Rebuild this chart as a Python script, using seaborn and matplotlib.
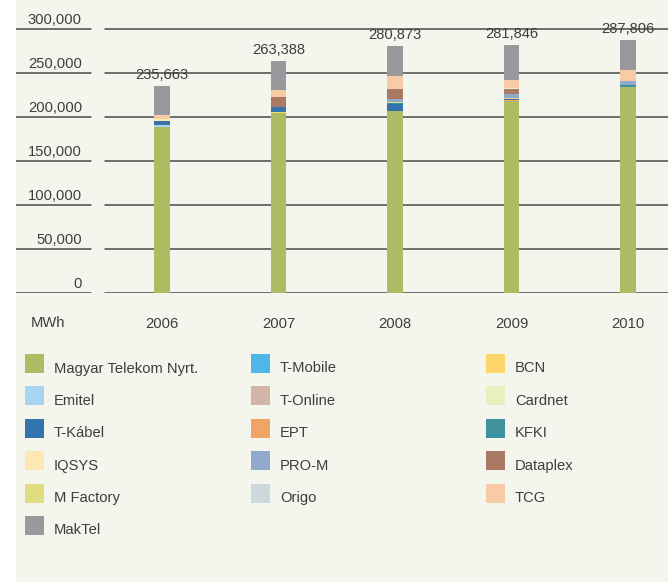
import numpy as np
import matplotlib
matplotlib.use("Agg")
import matplotlib.pyplot as plt
import matplotlib.transforms as mtrans
from matplotlib.patches import Rectangle
import seaborn as sns

# ---------------- data ----------------
years = ["2006", "2007", "2008", "2009", "2010"]
totals = [235663, 263388, 280873, 281846, 287806]

magyar_telekom = [188600, 204500, 206800, 218200, 234100]
emitel = [2300, 0, 0, 0, 0]
ept = [0, 0, 0, 1000, 0]
bcn = [0, 1100, 0, 0, 0]
t_kabel = [4200, 5300, 8000, 1000, 0]
kfki = [0, 0, 1500, 0, 2600]
m_factory = [0, 0, 1100, 1300, 0]
iqsys = [2500, 0, 0, 0, 0]
t_mobile = [0, 0, 0, 0, 0]
t_online = [0, 0, 0, 0, 0]
origo = [0, 0, 0, 0, 0]
pro_m = [0, 0, 3000, 4500, 4500]
dataplex = [0, 11400, 11400, 5300, 0]
cardnet = [0, 0, 0, 1100, 0]
tcg = [4200, 8000, 15100, 10200, 12500]
maktel = [33863, 33088, 33973, 39246, 34106]

y_ticks = [0, 50000, 100000, 150000, 200000, 250000, 300000]

# name -> (values, colour)
series = {
    "Magyar Telekom Nyrt.": (magyar_telekom, "#adbb63"),
    "Emitel": (emitel, "#a8d5f0"),
    "T-Kábel": (t_kabel, "#3474ac"),
    "IQSYS": (iqsys, "#fde8b4"),
    "M Factory": (m_factory, "#dfdc82"),
    "MakTel": (maktel, "#98999d"),
    "T-Mobile": (t_mobile, "#4fb6e8"),
    "T-Online": (t_online, "#d2b5a6"),
    "EPT": (ept, "#eea565"),
    "PRO-M": (pro_m, "#91a9cc"),
    "Origo": (origo, "#cbd8de"),
    "BCN": (bcn, "#fdd66a"),
    "Cardnet": (cardnet, "#ebeec0"),
    "KFKI": (kfki, "#40919e"),
    "Dataplex": (dataplex, "#ab7a66"),
    "TCG": (tcg, "#f8cba6"),
}
legend_order = ["Magyar Telekom Nyrt.", "Emitel", "T-Kábel", "IQSYS", "M Factory", "MakTel",
                "T-Mobile", "T-Online", "EPT", "PRO-M", "Origo",
                "BCN", "Cardnet", "KFKI", "Dataplex", "TCG"]
stack_order = ["Magyar Telekom Nyrt.", "Emitel", "EPT", "BCN", "T-Kábel", "KFKI", "M Factory",
               "IQSYS", "T-Mobile", "T-Online", "Origo", "PRO-M", "Dataplex", "Cardnet",
               "TCG", "MakTel"]

# ---------------- style ----------------
sns.set_theme(style="white")
plt.rcParams["font.family"] = ["Liberation Sans", "DejaVu Sans"]
TXT = "#3e3e3e"
CREAM = "#f4f5ec"
FS = 10.6

W, H = 668, 582
fig = plt.figure(figsize=(W / 100, H / 100), dpi=100)
fig.patch.set_facecolor("white")
fig.add_artist(Rectangle((16 / W, 0), 1, 1, transform=fig.transFigure,
                         facecolor=CREAM, edgecolor="none", zorder=-10))

ax_left, ax_right = 16, 668
ax_bottom_px, ax_top_px = 293, 12
ax = fig.add_axes([ax_left / W, (H - ax_bottom_px) / H,
                   (ax_right - ax_left) / W, (ax_bottom_px - ax_top_px) / H])
ax.set_facecolor("none")

# stacked bars
bottom = np.zeros(len(years))
for name in stack_order:
    vals, col = series[name]
    sns.barplot(x=years, y=vals, order=years, color=col, saturation=1,
                width=0.137, bottom=bottom.copy(), errorbar=None,
                linewidth=0, ax=ax, zorder=3)
    bottom += np.array(vals, dtype=float)

spacing = 116.5
x0 = -(162 - ax_left) / spacing
x1 = 4 + (ax_right - 628) / spacing
ax.set_xlim(x0, x1)
ax.set_ylim(0, 300000 * (ax_bottom_px - ax_top_px) / 264)

# gridlines with a gap after labels
axw = ax_right - ax_left
for v in y_ticks:
    ax.axhline(v, xmin=0, xmax=(91 - ax_left) / axw, color="#4a4a4a", lw=1.1, zorder=1)
    ax.axhline(v, xmin=(105 - ax_left) / axw, xmax=1, color="#4a4a4a", lw=1.1, zorder=1)
    tr = mtrans.offset_copy(ax.get_yaxis_transform(), fig=fig, x=0, y=5, units="dots")
    ax.text((82 - ax_left) / axw, v, f"{v:,}", transform=tr, ha="right", va="baseline",
            fontsize=FS, color=TXT)

# totals above bars
for i, t in enumerate(totals):
    tr = mtrans.offset_copy(ax.transData, fig=fig, x=0, y=7, units="dots")
    ax.text(i, t, f"{t:,}", transform=tr, ha="center", va="baseline",
            fontsize=FS, color=TXT, zorder=5)

for s in ax.spines.values():
    s.set_visible(False)
ax.set_yticks([])
ax.set_xlabel("")
ax.set_ylabel("")
ax.tick_params(axis="x", length=0, pad=17, labelsize=FS, labelcolor=TXT)
fig.text(48 / W, 1 - 323 / H, "MWh", ha="center", va="center", fontsize=FS, color=TXT)

# legend (manual, three columns)
col_x = [25, 251, 486]
text_x = [54, 280, 515]
cols = [legend_order[0:6], legend_order[6:11], legend_order[11:16]]
for c, names in enumerate(cols):
    for r, name in enumerate(names):
        top = 354 + 32.4 * r
        fig.add_artist(Rectangle((col_x[c] / W, 1 - (top + 19) / H), 19 / W, 19 / H,
                                 transform=fig.transFigure, facecolor=series[name][1],
                                 edgecolor="none"))
        fig.text(text_x[c] / W, 1 - (top + 18.5) / H, name, ha="left", va="baseline",
                 fontsize=FS, color=TXT)

fig.savefig("out.png", dpi=100, facecolor=fig.get_facecolor())
